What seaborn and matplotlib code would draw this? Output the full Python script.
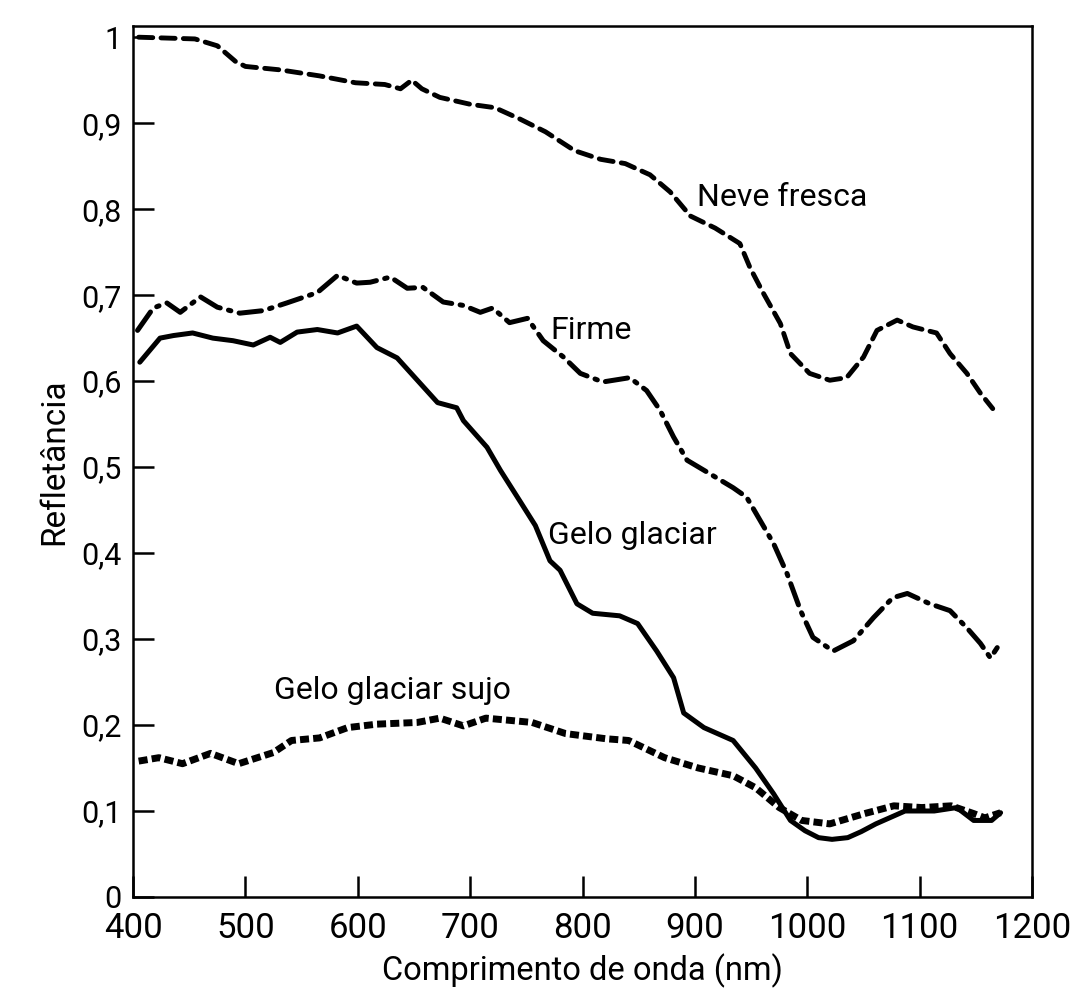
import pandas as pd
import seaborn as sns
import matplotlib.pyplot as plt

# Comprimento de onda (nm) e refletância
neve_x = [405, 430, 455, 475, 491, 500, 531, 566, 598, 624, 638, 648, 657, 673, 700, 722, 744,
          767, 793, 816, 838, 860, 878, 896, 918, 940, 949, 961, 976, 985, 1002, 1020, 1035,
          1050, 1062, 1080, 1094, 1115, 1127, 1142, 1154, 1165]
neve_y = [1.0, 0.999, 0.998, 0.99, 0.972, 0.966, 0.962, 0.955, 0.947, 0.945, 0.94, 0.95, 0.94,
          0.93, 0.922, 0.918, 0.905, 0.89, 0.868, 0.858, 0.853, 0.84, 0.82, 0.792, 0.778, 0.76,
          0.732, 0.702, 0.667, 0.632, 0.609, 0.601, 0.604, 0.628, 0.659, 0.671, 0.663, 0.656,
          0.632, 0.609, 0.586, 0.568]

firme_x = [404, 418, 430, 442, 460, 475, 495, 516, 537, 564, 582, 599, 611, 629, 644, 658, 676,
           694, 709, 720, 735, 751, 765, 783, 798, 818, 842, 857, 869, 881, 893, 911, 934, 946,
           958, 970, 982, 994, 1005, 1023, 1041, 1059, 1076, 1089, 1109, 1127, 1142, 1154, 1163,
           1169]
firme_y = [0.659, 0.685, 0.691, 0.68, 0.698, 0.686, 0.679, 0.682, 0.691, 0.703, 0.723, 0.714,
           0.715, 0.721, 0.708, 0.709, 0.692, 0.688, 0.68, 0.685, 0.668, 0.673, 0.647, 0.628,
           0.609, 0.599, 0.604, 0.589, 0.566, 0.535, 0.508, 0.494, 0.476, 0.465, 0.438, 0.411,
           0.376, 0.333, 0.302, 0.286, 0.298, 0.325, 0.348, 0.353, 0.341, 0.333, 0.313, 0.295,
           0.278, 0.29]

gelo_x = [406, 424, 436, 453, 471, 489, 507, 522, 531, 546, 564, 582, 599, 617, 635, 653, 671,
          688, 694, 715, 727, 744, 758, 771, 780, 795, 809, 833, 849, 866, 881, 890, 908, 934,
          954, 970, 985, 998, 1010, 1022, 1036, 1048, 1061, 1087, 1113, 1133, 1148, 1164, 1172]
gelo_y = [0.622, 0.65, 0.653, 0.656, 0.65, 0.647, 0.642, 0.651, 0.645, 0.657, 0.66, 0.656,
          0.664, 0.639, 0.627, 0.601, 0.575, 0.569, 0.554, 0.523, 0.496, 0.461, 0.432, 0.391,
          0.38, 0.341, 0.33, 0.327, 0.318, 0.286, 0.255, 0.214, 0.197, 0.182, 0.15, 0.12, 0.089,
          0.077, 0.069, 0.067, 0.069, 0.076, 0.085, 0.1, 0.1, 0.104, 0.089, 0.089, 0.098]

sujo_x = [405, 423, 444, 469, 494, 525, 541, 566, 591, 617, 653, 673, 694, 714, 755, 785, 821,
          841, 873, 903, 934, 954, 975, 995, 1020, 1051, 1077, 1102, 1128, 1148, 1158, 1172]
sujo_y = [0.158, 0.162, 0.155, 0.167, 0.155, 0.168, 0.182, 0.185, 0.197, 0.201, 0.203, 0.208,
          0.199, 0.208, 0.203, 0.19, 0.184, 0.182, 0.162, 0.15, 0.141, 0.127, 0.104, 0.089,
          0.085, 0.097, 0.106, 0.104, 0.106, 0.097, 0.092, 0.098]

x_ticks = [400, 500, 600, 700, 800, 900, 1000, 1100, 1200]
y_ticks = [0, 0.1, 0.2, 0.3, 0.4, 0.5, 0.6, 0.7, 0.8, 0.9, 1.0]
y_labels = ["0", "0,1", "0,2", "0,3", "0,4", "0,5", "0,6", "0,7", "0,8", "0,9", "1"]

sns.set_theme(style="ticks")
plt.rcParams['font.family'] = ['Roboto', 'DejaVu Sans']
plt.rcParams.update({
    'text.color': 'black', 'axes.labelcolor': 'black',
    'xtick.color': 'black', 'ytick.color': 'black',
})

fig = plt.figure(figsize=(10.79, 10.05), dpi=100)
ax = fig.add_axes([0.1233, 0.1075, 0.8332, 0.8666])

sns.lineplot(x=neve_x, y=neve_y, ax=ax, color="black", linewidth=3.5,
             linestyle=(0, (2.9, 1.7)), dash_capstyle="round", dash_joinstyle="round")
sns.lineplot(x=firme_x, y=firme_y, ax=ax, color="black", linewidth=3.6,
             linestyle=(0, (4.5, 1.7, 0.5, 1.7)), dash_capstyle="round", dash_joinstyle="round")
sns.lineplot(x=gelo_x, y=gelo_y, ax=ax, color="black", linewidth=3.6,
             solid_capstyle="round", solid_joinstyle="round")
sns.lineplot(x=sujo_x, y=sujo_y, ax=ax, color="black", linewidth=5.0,
             linestyle=(0, (1.3, 0.6)), dash_joinstyle="round")

ax.set_xlim(400, 1200)
ax.set_ylim(0, 1.013)
ax.set_xticks(x_ticks)
ax.set_xticklabels([str(t) for t in x_ticks])
ax.set_yticks(y_ticks)
ax.set_yticklabels(y_labels)
ax.tick_params(axis="both", which="major", direction="in", length=15, width=1.8,
               color="black", bottom=True, left=True)
ax.tick_params(axis="x", pad=11, labelsize=25)
ax.tick_params(axis="y", pad=8, labelsize=22)
for s in ax.spines.values():
    s.set_linewidth(1.8)
    s.set_color("black")

ax.set_xlabel("Comprimento de onda (nm)", fontsize=23.5, labelpad=6)
ax.set_ylabel("Refletância", fontsize=24, labelpad=8)

ax.text(902, 0.813, "Neve fresca", fontsize=23, ha="left", va="center")
ax.text(771, 0.659, "Firme", fontsize=23, ha="left", va="center")
ax.text(769, 0.420, "Gelo glaciar", fontsize=23, ha="left", va="center")
ax.text(525, 0.240, "Gelo glaciar sujo", fontsize=23, ha="left", va="center")

plt.savefig("out.png", dpi=100)
